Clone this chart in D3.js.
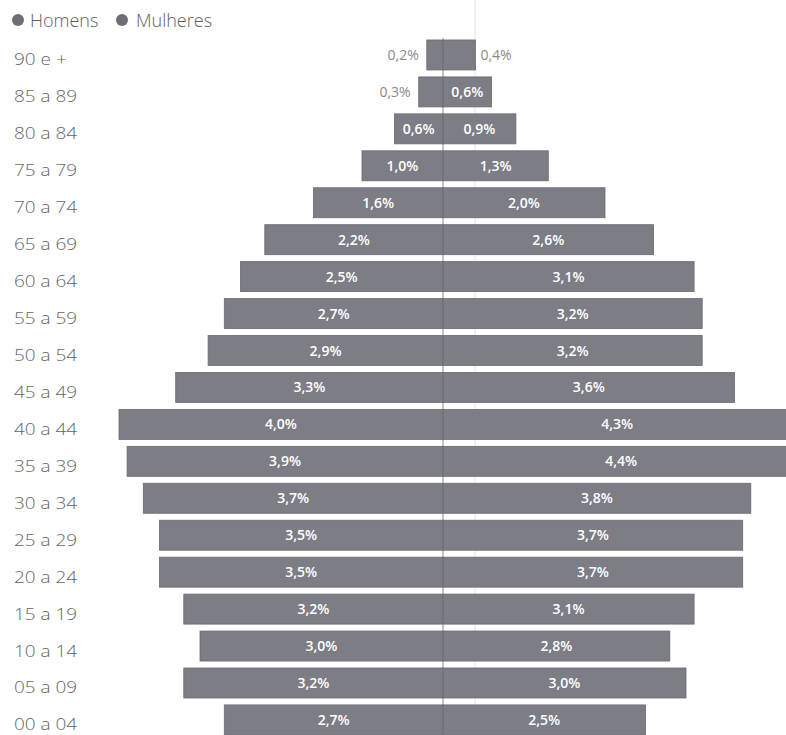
<!DOCTYPE html>
<html><head><meta charset="utf-8">
<script src="https://cdn.jsdelivr.net/npm/d3@7/dist/d3.min.js"></script>
<style>body{margin:0;background:#fff;}svg{display:block;}</style>
</head><body>
<svg id="c" width="786" height="735"></svg>
<script>
const categories = ["90 e +","85 a 89","80 a 84","75 a 79","70 a 74","65 a 69","60 a 64","55 a 59","50 a 54","45 a 49","40 a 44","35 a 39","30 a 34","25 a 29","20 a 24","15 a 19","10 a 14","05 a 09","00 a 04"];
const homens   = [0.2,0.3,0.6,1.0,1.6,2.2,2.5,2.7,2.9,3.3,4.0,3.9,3.7,3.5,3.5,3.2,3.0,3.2,2.7];
const mulheres = [0.4,0.6,0.9,1.3,2.0,2.6,3.1,3.2,3.2,3.6,4.3,4.4,3.8,3.7,3.7,3.1,2.8,3.0,2.5];
const seriesNames = ["Homens","Mulheres"];

const W = 786, H = 735, cx = 443;
const svg = d3.select("#c");
const font = "'Open Sans', sans-serif";
const barColor = "#7c7d85";

const y = d3.scaleBand().domain(categories).range([36.5, 738.4]).paddingInner(0.188).paddingOuter(0.094);
const x = d3.scaleLinear().domain([0, 1]).range([0, 81]);

// gridlines
svg.append("line").attr("x1",475).attr("x2",475).attr("y1",0).attr("y2",H).attr("stroke","#e4e4e4").attr("stroke-width",1);
svg.append("line").attr("x1",cx).attr("x2",cx).attr("y1",38).attr("y2",H).attr("stroke","#8a8a8a").attr("stroke-width",1);

const fmt = v => v.toFixed(1).replace(".", ",") + "%";

// bars
const rows = categories.map((c,i)=>({c, h: homens[i], m: mulheres[i]}));
svg.append("g").selectAll("rect").data(rows).join("rect")
  .attr("x", d => cx - x(d.h)).attr("y", d => y(d.c)).attr("width", d => x(d.h)).attr("height", y.bandwidth())
  .attr("fill", barColor).attr("stroke","#6a6b72").attr("stroke-width",0.8);
svg.append("g").selectAll("rect").data(rows).join("rect")
  .attr("x", cx).attr("y", d => y(d.c)).attr("width", d => x(d.m)).attr("height", y.bandwidth())
  .attr("fill", barColor).attr("stroke","#6a6b72").attr("stroke-width",0.8);

// value labels
const lblSize = 14, needW = 40;
const lg = svg.append("g").attr("font-family", font).attr("font-size", lblSize);
rows.forEach(d => {
  const yc = y(d.c) + y.bandwidth()/2 + 5;
  const wh = x(d.h), wm = x(d.m);
  if (wh >= needW) {
    lg.append("text").attr("x", cx - wh/2).attr("y", yc).attr("text-anchor","middle").attr("fill","#fff").attr("font-weight",600).text(fmt(d.h));
  } else {
    lg.append("text").attr("x", cx - wh - 8).attr("y", yc).attr("text-anchor","end").attr("fill","#8a8a8a").text(fmt(d.h));
  }
  if (wm >= needW) {
    lg.append("text").attr("x", cx + wm/2).attr("y", yc).attr("text-anchor","middle").attr("fill","#fff").attr("font-weight",600).text(fmt(d.m));
  } else {
    lg.append("text").attr("x", cx + wm + 5).attr("y", yc).attr("text-anchor","start").attr("fill","#8a8a8a").text(fmt(d.m));
  }
});

// category axis labels (slightly stretched horizontally like the reference)
const ag = svg.append("g").attr("font-family", font).attr("font-size", 16.5).attr("font-weight",300).attr("fill","#666");
categories.forEach(c => {
  ag.append("text").attr("transform", `translate(14,${y(c) + y.bandwidth()/2 + 10.5}) scale(1.15,1)`).text(c);
});

// legend
const leg = svg.append("g").attr("font-family", font).attr("font-size", 18).attr("font-weight",300).attr("fill","#5f5f5f");
const legX = [18, 122];
seriesNames.forEach((s,i) => {
  leg.append("circle").attr("cx", legX[i]).attr("cy", 20).attr("r", 6).attr("fill","#6e6f76");
  leg.append("text").attr("x", legX[i] + 12 + i*2).attr("y", 26.5).text(s);
});
</script>
</body></html>
